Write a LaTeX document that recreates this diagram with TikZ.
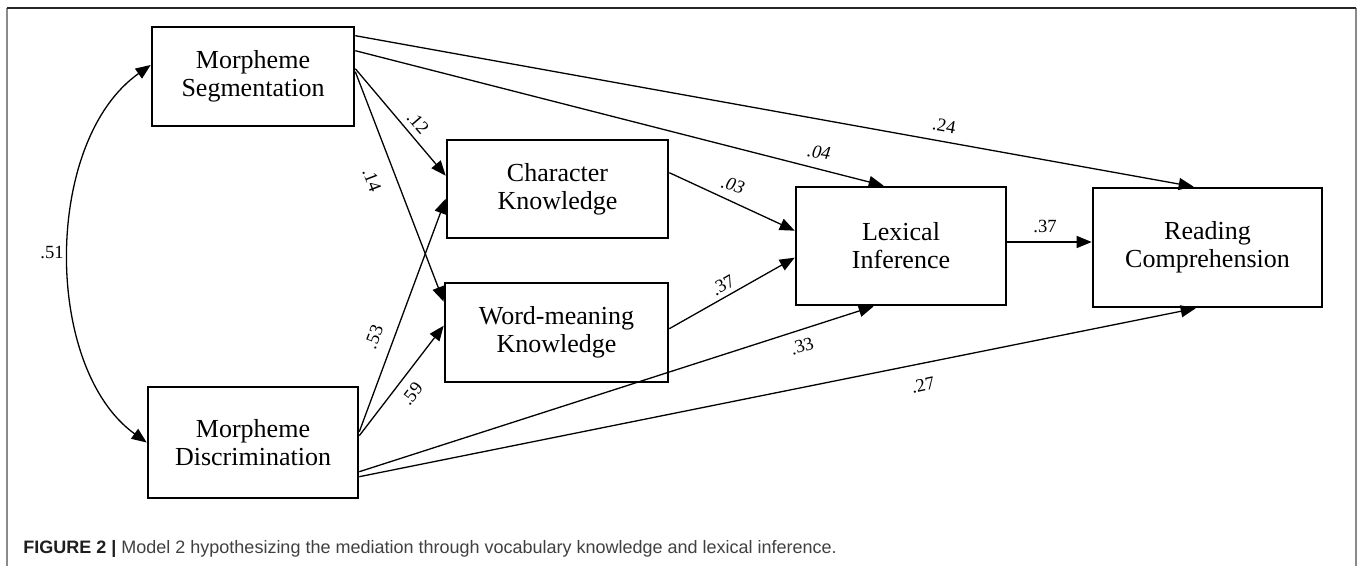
\documentclass[tikz,border=0pt]{standalone}
\usepackage{fontspec}
\setmainfont{Liberation Serif}
\newfontfamily\capfont{Liberation Sans}
\usetikzlibrary{arrows.meta,calc}
\definecolor{capgray}{HTML}{404040}
\definecolor{capdark}{HTML}{1E1E1E}
\definecolor{framegray}{HTML}{8A8A8A}
\begin{document}
\begin{tikzpicture}[x=0.5pt,y=-0.5pt,
  box/.style={draw,line width=1.3pt,align=center,inner sep=0pt,
    font=\fontsize{13}{14}\selectfont},
  arr/.style={-{Triangle[length=7.5pt,width=6pt]},line width=0.65pt},
  dbl/.style={{Triangle[length=7.5pt,width=6pt]}-{Triangle[length=7.5pt,width=6pt]},line width=0.65pt},
  lab/.style={font=\fontsize{9.3}{10}\selectfont,inner sep=0pt},
  ilab/.style={font=\fontsize{9.3}{10}\selectfont\itshape,inner sep=0pt}]
\useasboundingbox (0,0) rectangle (1360,566);
% frame
\draw[framegray,line width=1pt] (7,566) -- (7,8);
\draw[framegray,line width=1pt] (1356,8) -- (1356,566);
\draw[black!85,line width=0.9pt] (7,8) -- (1356,8);
% boxes
\node[box,minimum width=101pt,minimum height=49.5pt] (MS) at (253,76.5) {Morpheme\\Segmentation};
\node[box,minimum width=105pt,minimum height=55.5pt] (MD) at (253,442.5) {Morpheme\\Discrimination};
\node[box,minimum width=110.5pt,minimum height=49pt] (CK) at (557.5,189) {Character\\Knowledge};
\node[box,minimum width=111.5pt,minimum height=49.5pt] (WK) at (556.5,332.5) {Word-meaning\\Knowledge};
\node[box,minimum width=105pt,minimum height=59pt] (LI) at (901,246) {Lexical\\Inference};
\node[box,minimum width=114.5pt,minimum height=59.5pt] (RC) at (1207.5,247.5) {Reading\\Comprehension};
% correlation
\draw[dbl] ([yshift=5.75pt]MS.west) .. controls (43,141) and (43,368) .. (MD.west);
% paths from MS
\draw[arr] ([yshift=-5pt]MS.north east) -- ([xshift=51pt]RC.north west);
\draw[arr] ([yshift=-12.5pt]MS.north east) -- ([xshift=44.5pt]LI.north west);
\draw[arr] ([yshift=-21.5pt]MS.north east) -- ([yshift=-18.5pt]CK.north west);
\draw[arr] ([yshift=-23pt]MS.north east) -- ([yshift=-10pt]WK.north west);
% paths from MD
\draw[arr] ([yshift=-23pt]MD.north east) -- ([yshift=-30pt]CK.north west);
\draw[arr] ([yshift=-25pt]MD.north east) -- ([yshift=-22pt]WK.north west);
\draw[arr] ([yshift=-43pt]MD.north east) -- ([xshift=39.5pt]LI.south west);
\draw[arr] ([yshift=-45.5pt]MD.north east) -- ([xshift=52pt]RC.south west);
% mediators
\draw[arr] ([yshift=-17pt]CK.north east) -- ([yshift=-22.5pt]LI.north west);
\draw[arr] ([yshift=-23.5pt]WK.north east) -- ([yshift=-36pt]LI.north west);
\draw[arr] ([yshift=2pt]LI.east) -- ([yshift=2pt]LI.east -| RC.west);
% labels
\node[lab] (l51) at (52,252) {.51};
\node[lab,rotate=-49] (l12) at (418,123) {.12};
\node[lab,rotate=-69] (l14) at (372,180) {.14};
\node[lab,rotate=69] (l53) at (374,337) {.53};
\node[lab,rotate=52] (l59) at (412,394) {.59};
\node[ilab,rotate=-8] (l04) at (819,152) {.04};
\node[ilab,rotate=-18] (l03) at (733,185) {.03};
\node[lab,rotate=-10] (l24) at (944,126) {.24};
\node[lab,rotate=30] (l37a) at (723,285) {.37};
\node[lab,rotate=17] (l33) at (802,346) {.33};
\node[lab,rotate=12] (l27) at (923,385) {.27};
\node[lab] (l37b) at (1045,226) {.37};
% caption
\node[anchor=base west,inner sep=0pt,text=capgray,font=\capfont\fontsize{9}{10}\selectfont] (cap) at (23,553)
  {\textcolor{capdark}{\textbf{FIGURE 2 |}} Model 2 hypothesizing the mediation through vocabulary knowledge and lexical inference.};
\end{tikzpicture}
\end{document}
